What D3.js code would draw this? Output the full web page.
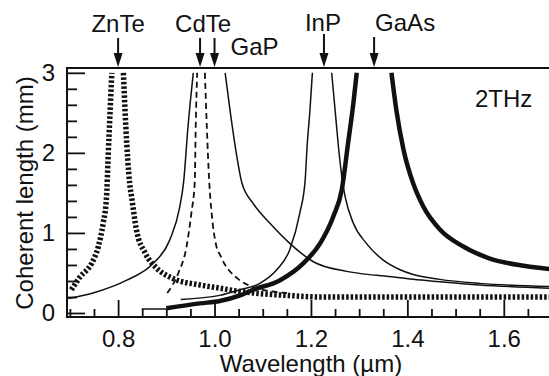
<!DOCTYPE html>
<html>
<head>
<meta charset="utf-8">
<script src="https://cdnjs.cloudflare.com/ajax/libs/d3/7.8.5/d3.min.js"></script>
<style>
body { margin: 0; background: #fff; }
text { font-family: "Liberation Sans", Arial, Helvetica, sans-serif; fill: #111; }
.curve { fill: none; stroke: #111; stroke-linejoin: round; }
.znte { stroke-width: 5.5; stroke-dasharray: 2.5 2; }
.cdte { stroke-width: 1.8; stroke-dasharray: 6 4; }
.thin { stroke-width: 1.5; }
.thick { stroke-width: 4.5; }
.axis line { stroke: #111; stroke-width: 1.8; }
.axis path { display: none; }
</style>
</head>
<body>
<div class="chart"></div>
<script>
var width = 549, height = 376;

// material markers on top (wavelength in um)
var materials = ["ZnTe", "CdTe", "GaP", "InP", "GaAs"];
var markLambda = [0.8, 0.97, 1.0, 1.227, 1.331];

// coherent length curves [wavelength um, length mm]
var znteLeft = [[0.703,0.29],[0.721,0.45],[0.745,0.62],[0.759,0.83],[0.769,1.12],[0.776,1.45],[0.779,1.9],[0.782,2.33],[0.787,3.0]];
var znteRight = [[0.811,3.0],[0.816,2.33],[0.824,1.62],[0.828,1.45],[0.838,1.04],[0.856,0.75],[0.880,0.56],[0.914,0.43],[0.970,0.35],[1.011,0.31],[1.04,0.28],[1.08,0.25],[1.15,0.22],[1.22,0.2],[1.4,0.2],[1.7,0.2]];

var cdteLeft = [[0.902,0.25],[0.925,0.5],[0.942,0.83],[0.952,1.25],[0.959,1.64],[0.961,2.33],[0.964,3.0]];
var cdteRight = [[0.980,3.0],[0.984,2.33],[0.989,1.64],[0.994,1.25],[1.004,0.83],[1.012,0.72],[1.022,0.6],[1.035,0.5],[1.05,0.42],[1.073,0.34],[1.1,0.29],[1.15,0.25]];

var gapLeft = [[0.697,0.18],[0.748,0.25],[0.818,0.41],[0.873,0.62],[0.907,0.91],[0.928,1.33],[0.936,1.64],[0.945,2.33],[0.956,3.0]];
var gapRight = [[1.022,3.0],[1.032,2.54],[1.044,2.04],[1.057,1.62],[1.080,1.37],[1.115,1.12],[1.156,0.87],[1.205,0.64],[1.274,0.52],[1.336,0.47],[1.385,0.44],[1.412,0.42],[1.467,0.39],[1.55,0.35],[1.694,0.31]];

var inpLeft = [[0.93,0.17],[1.011,0.22],[1.053,0.29],[1.094,0.37],[1.129,0.54],[1.156,0.79],[1.177,1.25],[1.188,1.66],[1.192,2.08],[1.198,2.54],[1.203,3.0]];
var inpRight = [[1.243,3.0],[1.250,2.54],[1.257,2.08],[1.266,1.62],[1.271,1.45],[1.288,1.12],[1.315,0.87],[1.350,0.66],[1.385,0.54],[1.412,0.48],[1.467,0.42],[1.55,0.37],[1.694,0.33]];

var gaasStart = [[0.849,0.05],[0.9,0.05]];
var gaasLeft = [[0.9,0.06],[0.970,0.12],[1.011,0.15],[1.053,0.22],[1.080,0.29],[1.136,0.41],[1.184,0.62],[1.219,0.87],[1.246,1.2],[1.264,1.54],[1.277,2.12],[1.288,2.62],[1.295,3.0]];
var gaasRight = [[1.367,3.0],[1.377,2.54],[1.392,2.04],[1.412,1.62],[1.433,1.33],[1.468,1.04],[1.516,0.83],[1.571,0.68],[1.641,0.59],[1.694,0.55]];

var xMajor = [0.8, 1.0, 1.2, 1.4, 1.6];
var yMajor = [0, 1, 2, 3];

var x = d3.scaleLinear().domain([0.694, 1.7]).range([67, 552]);
var y = d3.scaleLinear().domain([-0.05, 3.06]).range([317, 68]);

var svg = d3.select(".chart").append("svg")
    .attr("width", width)
    .attr("height", height);

svg.append("clipPath").attr("id", "plot")
  .append("rect")
    .attr("x", x.range()[0]).attr("y", y.range()[1])
    .attr("width", x.range()[1] - x.range()[0])
    .attr("height", y.range()[0] - y.range()[1]);

// minor ticks every 0.05 / 0.2
var xMinor = d3.range(0.7, 1.701, 0.05).filter(function(v) {
  return !xMajor.some(function(m) { return Math.abs(m - v) < 1e-6; });
});
var yMinor = d3.range(0, 3.01, 0.2).filter(function(v) {
  return !yMajor.some(function(m) { return Math.abs(m - v) < 1e-6; });
});

svg.append("g").attr("class", "axis")
    .attr("transform", "translate(0," + y.range()[0] + ")")
    .call(d3.axisBottom(x).tickValues(xMinor).tickFormat("").tickSize(-8).tickSizeOuter(0));
svg.append("g").attr("class", "axis")
    .attr("transform", "translate(0," + y.range()[0] + ")")
    .call(d3.axisBottom(x).tickValues(xMajor).tickFormat(d3.format(".1f")).tickSize(-17).tickSizeOuter(0).tickPadding(13))
  .selectAll("text").style("font-size", "24px");

svg.append("g").attr("class", "axis")
    .attr("transform", "translate(" + x.range()[0] + ",0)")
    .call(d3.axisLeft(y).tickValues(yMinor).tickFormat("").tickSize(-10).tickSizeOuter(0));
svg.append("g").attr("class", "axis")
    .attr("transform", "translate(" + x.range()[0] + ",0)")
    .call(d3.axisLeft(y).tickValues(yMajor).tickFormat(d3.format("d")).tickSize(-18).tickSizeOuter(0).tickPadding(12))
  .selectAll("text").style("font-size", "24px");

// frame
var frame = svg.append("g").attr("stroke", "#111").attr("stroke-width", 2).attr("fill", "none");
frame.append("path")
  .attr("d", "M" + width + "," + y.range()[1] + "H" + x.range()[0] + "V" + y.range()[0] + "H" + width);

// curves
var line = d3.line()
    .x(function(d) { return x(d[0]); })
    .y(function(d) { return y(d[1]); })
    .curve(d3.curveMonotoneX);

var curves = [
  {data: znteLeft, cls: "znte"}, {data: znteRight, cls: "znte"},
  {data: cdteLeft, cls: "cdte"}, {data: cdteRight, cls: "cdte"},
  {data: gapLeft, cls: "thin"}, {data: gapRight, cls: "thin"},
  {data: inpLeft, cls: "thin"}, {data: inpRight, cls: "thin"},
  {data: gaasStart, cls: "thin"},
  {data: gaasLeft, cls: "thick"}, {data: gaasRight, cls: "thick"}
];

svg.append("g").attr("clip-path", "url(#plot)")
  .selectAll("path")
  .data(curves)
  .enter().append("path")
    .attr("class", function(d) { return "curve " + d.cls; })
    .attr("d", function(d) { return line(d.data); });

// arrows + material names
var labelPos = [
  {anchor: "middle", dx: 0, by: 32, top: 38},
  {anchor: "middle", dx: 3, by: 32, top: 38},
  {anchor: "start", dx: 16, by: 55, top: 38},
  {anchor: "middle", dx: -1, by: 31, top: 34},
  {anchor: "start", dx: 1, by: 31, top: 37}
];

var marks = svg.append("g").selectAll("g")
  .data(materials)
  .enter().append("g")
    .attr("transform", function(d, i) { return "translate(" + x(markLambda[i]) + ",0)"; });

marks.append("line")
    .attr("y1", function(d, i) { return labelPos[i].top; })
    .attr("y2", 56)
    .attr("stroke", "#111").attr("stroke-width", 2);
marks.append("path")
    .attr("d", "M-4.5,53L4.5,53L0,67Z")
    .attr("fill", "#111");
marks.append("text")
    .attr("x", function(d, i) { return labelPos[i].dx; })
    .attr("y", function(d, i) { return labelPos[i].by; })
    .attr("text-anchor", function(d, i) { return labelPos[i].anchor; })
    .style("font-size", "24px")
    .text(function(d) { return d; });

svg.append("text")
    .attr("x", 475).attr("y", 107)
    .style("font-size", "24px")
    .text("2THz");

svg.append("text")
    .attr("x", 311).attr("y", 372)
    .attr("text-anchor", "middle")
    .style("font-size", "24px")
    .text("Wavelength (µm)");

svg.append("text")
    .attr("transform", "translate(33,193) rotate(-90)")
    .attr("text-anchor", "middle")
    .style("font-size", "24px")
    .text("Coherent length (mm)");
</script>
</body>
</html>
